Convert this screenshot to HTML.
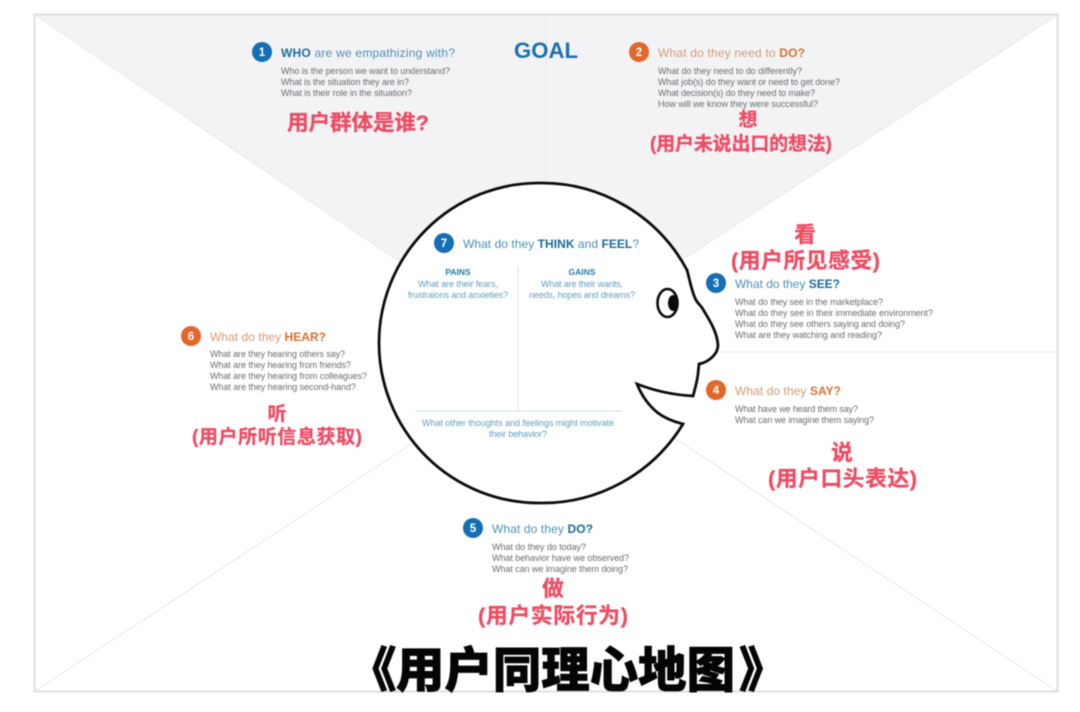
<!DOCTYPE html>
<html lang="zh">
<head>
<meta charset="utf-8">
<title>用户同理心地图</title>
<style>
html,body{margin:0;padding:0;background:#fff;width:1080px;height:712px;overflow:hidden}
svg{display:block;filter:blur(.4px)}
text{font-family:"Liberation Sans","Noto Sans CJK SC",sans-serif}
.b{font-size:9px;fill:#6c6c70}
.h{font-size:12px;fill:#4d90b6}
.o{font-size:12px;fill:#d59a72}
.hb{font-weight:700;fill:#1c6b9e}
.ob{font-weight:700;fill:#d8702e}
.n{font-size:11.5px;font-weight:700;fill:#fff;text-anchor:middle}
.t{font-size:9px;fill:#5e9dc0}
.tb{font-size:8.5px;font-weight:700;fill:#2b79a8;text-anchor:middle}
.r{font-weight:700;fill:#ee4c63;stroke:#ee4c63;stroke-width:.3;font-size:19px}
.l{font-size:21.7px}
.c{text-anchor:middle}
.k{font-size:48.400px;font-weight:900;fill:#050505;stroke:#050505;stroke-width:.8}
</style>
</head>
<body>
<svg width="1080" height="712" viewBox="0 0 1080 712" xmlns="http://www.w3.org/2000/svg">
<rect width="1080" height="712" fill="#fff"/>
<polygon points="35,15 1057,15 685,258 541,343 400,262" fill="#f3f3f6"/>
<g stroke="#e8e8ea" stroke-width="1" fill="none">
<line x1="35" y1="15" x2="400" y2="262"/>
<line x1="1057" y1="15" x2="685" y2="258"/>
<line x1="35" y1="691" x2="425" y2="435"/>
<line x1="1057" y1="691" x2="670" y2="435"/>
<line x1="546" y1="15" x2="546" y2="190"/>
<line x1="710" y1="352" x2="1057" y2="352"/>
</g>
<rect x="34.500" y="14.500" width="1023" height="677" fill="none" stroke="#dfdfe2" stroke-width="2"/>

<path d="M 683,424 A 165,165 0 0 1 539,503 A 160,160 0 0 1 379,343 A 160,160 0 0 1 539,183 A 165,165 0 0 1 687,270 C 690,281 692,293 696,300 C 698,304 701,305 704,311 C 710,321 717,332 718,345 C 718,354 709,362 699,364 L 698,374 C 697,382 695,389 693,396 C 675,395 655,391 637,384 C 641,394 648,405 658,413 C 666,419 675,422 683,424 Z" fill="#fff" stroke="#0c0c0c" stroke-width="2.800" stroke-linejoin="miter"/>
<ellipse cx="667.500" cy="303" rx="10" ry="14" fill="#fff" stroke="#0c0c0c" stroke-width="2.600"/>
<ellipse cx="673" cy="303" rx="5" ry="8" fill="#0c0c0c"/>

<line x1="518" y1="267" x2="518" y2="411" stroke="#d9e3ea" stroke-width="1"/>
<line x1="415" y1="411" x2="622" y2="411" stroke="#cfdfe8" stroke-width="1"/>

<text x="514" y="58" font-size="22" font-weight="700" fill="#1a72ad" textLength="64" lengthAdjust="spacingAndGlyphs">GOAL</text>

<circle cx="262" cy="52" r="10" fill="#146fb4"/><text class="n" x="262" y="56">1</text>
<circle cx="639" cy="52" r="10" fill="#e5662a"/><text class="n" x="639" y="56">2</text>
<circle cx="716" cy="283" r="10" fill="#146fb4"/><text class="n" x="716" y="287">3</text>
<circle cx="716" cy="390" r="10" fill="#e5662a"/><text class="n" x="716" y="394">4</text>
<circle cx="473" cy="528" r="10" fill="#146fb4"/><text class="n" x="473" y="532">5</text>
<circle cx="191" cy="336" r="10" fill="#e5662a"/><text class="n" x="191" y="340">6</text>
<circle cx="444" cy="243" r="10" fill="#146fb4"/><text class="n" x="444" y="247">7</text>

<text class="h" x="281" y="57" textLength="174"><tspan class="hb">WHO</tspan> are we empathizing with?</text>
<text class="b" x="281" y="74" textLength="169">Who is the person we want to understand?</text>
<text class="b" x="281" y="85" textLength="128">What is the situation they are in?</text>
<text class="b" x="281" y="96" textLength="131">What is their role in the situation?</text>

<text class="o" x="658" y="57" textLength="147">What do they need to <tspan class="ob">DO?</tspan></text>
<text class="b" x="658" y="74" textLength="144">What do they need to do differently?</text>
<text class="b" x="658" y="85" textLength="182">What job(s) do they want or need to get done?</text>
<text class="b" x="658" y="96" textLength="157">What decision(s) do they need to make?</text>
<text class="b" x="658" y="107" textLength="160">How will we know they were successful?</text>

<text class="h" x="735" y="288" textLength="105">What do they <tspan class="hb">SEE?</tspan></text>
<text class="b" x="735" y="305" textLength="148">What do they see in the marketplace?</text>
<text class="b" x="735" y="316" textLength="198">What do they see in their immediate environment?</text>
<text class="b" x="735" y="327" textLength="170">What do they see others saying and doing?</text>
<text class="b" x="735" y="338" textLength="147">What are they watching and reading?</text>

<text class="o" x="735" y="395" textLength="106">What do they <tspan class="ob">SAY?</tspan></text>
<text class="b" x="735" y="412" textLength="123">What have we heard them say?</text>
<text class="b" x="735" y="423" textLength="139">What can we imagine them saying?</text>

<text class="h" x="492" y="533" textLength="101">What do they <tspan class="hb">DO?</tspan></text>
<text class="b" x="492" y="550" textLength="94">What do they do today?</text>
<text class="b" x="492" y="561" textLength="137">What behavior have we observed?</text>
<text class="b" x="492" y="572" textLength="136">What can we imagine them doing?</text>

<text class="o" x="210" y="341" textLength="116">What do they <tspan class="ob">HEAR?</tspan></text>
<text class="b" x="210" y="357" textLength="135">What are they hearing others say?</text>
<text class="b" x="210" y="368" textLength="141">What are they hearing from friends?</text>
<text class="b" x="210" y="379" textLength="157">What are they hearing from colleagues?</text>
<text class="b" x="210" y="390" textLength="146">What are they hearing second-hand?</text>

<text class="h" x="463" y="248" textLength="176">What do they <tspan class="hb">THINK</tspan> and <tspan class="hb">FEEL</tspan>?</text>
<text class="tb" x="458" y="275">PAINS</text>
<text class="t" x="418" y="287" textLength="80">What are their fears,</text>
<text class="t" x="408" y="298" textLength="100">frustraions and anxieties?</text>
<text class="tb" x="582" y="275">GAINS</text>
<text class="t" x="541" y="287" textLength="82">What are their wants,</text>
<text class="t" x="529" y="298" textLength="106">needs, hopes and dreams?</text>
<text class="t" x="422" y="426" textLength="192">What other thoughts and feelings might motivate</text>
<text class="t" x="489" y="437" textLength="58">their behavior?</text>

<text class="r l" x="287" y="130" textLength="142">用户群体是谁?</text>
<text class="r c" x="748" y="126">想</text>
<text class="r" x="650" y="150" textLength="182">(用户未说出口的想法)</text>
<text class="r l c" x="805" y="242">看</text>
<text class="r l" x="731" y="268" textLength="149">(用户所见感受)</text>
<text class="r l c" x="842" y="460">说</text>
<text class="r l" x="768" y="486" textLength="149">(用户口头表达)</text>
<text class="r c" x="277" y="420">听</text>
<text class="r" x="192" y="443" textLength="170">(用户所听信息获取)</text>
<text class="r l c" x="553" y="596">做</text>
<text class="r l" x="478" y="623" textLength="150">(用户实际行为)</text>

<text class="k" x="348" y="687">《</text>
<text class="k" x="396" y="687" textLength="339">用户同理心地图</text>
<text class="k" x="739" y="687">》</text>
</svg>
</body>
</html>
